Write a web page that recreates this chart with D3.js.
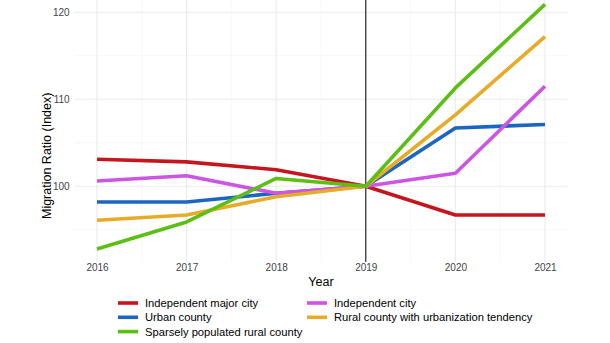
<!DOCTYPE html>
<html lang="en">
<head>
    <meta charset="UTF-8">
    <title>Migration Ratio (Index)</title>
    <script src="https://d3js.org/d3.v7.min.js"></script>
    <style>
        body { margin: 0; background: #fff; }
        svg { display: block; font-family: "Liberation Sans", Arial, sans-serif; }
        .tick text { font-size: 10px; fill: #444; }
        .grid line { stroke: #ebebeb; }
        .grid-minor line { stroke: #f3f3f3; }
    </style>
</head>
<body>
    <div id="chart"></div>
    <script>
        // Index values per group, 2019 = 100
        var years = [2016, 2017, 2018, 2019, 2020, 2021];
        var groupNames = [
            "Independent major city",
            "Urban county",
            "Sparsely populated rural county",
            "Independent city",
            "Rural county with urbanization tendency"
        ];
        var majorCity = [103.1, 102.8, 101.9, 100, 96.7, 96.7];
        var urbanCounty = [98.2, 98.2, 99.2, 100, 106.7, 107.1];
        var sparseRural = [92.8, 95.9, 100.9, 100, 111.3, 120.9];
        var indepCity = [100.6, 101.2, 99.2, 100, 101.5, 111.5];
        var ruralUrban = [96.1, 96.7, 98.8, 100, 108.2, 117.2];
        var yTicks = [100, 110, 120];
        var yMinor = [95, 105, 115];

        var colors = {
            "Independent major city": "#c4161c",
            "Urban county": "#1a66c0",
            "Sparsely populated rural county": "#5dbf16",
            "Independent city": "#cc55e3",
            "Rural county with urbanization tendency": "#e8ab27"
        };

        var series = [
            { name: groupNames[0], values: majorCity },
            { name: groupNames[1], values: urbanCounty },
            { name: groupNames[2], values: sparseRural },
            { name: groupNames[3], values: indepCity },
            { name: groupNames[4], values: ruralUrban }
        ];
        // stacking order of the lines
        var drawOrder = [0, 1, 3, 4, 2];

        var W = 610, H = 343;
        var panel = { left: 74.6, right: 567.4, top: 0, bottom: 262 };

        var svg = d3.select("#chart").append("svg")
            .attr("width", W).attr("height", H);

        var x = d3.scaleLinear()
            .domain([2015.75, 2021.25])
            .range([panel.left, panel.right]);

        var y = d3.scaleLinear()
            .domain([91.3, 121.4])
            .range([panel.bottom, panel.top]);

        // minor grid
        var minor = svg.append("g").attr("class", "grid-minor");
        minor.selectAll("line.h").data(yMinor).enter().append("line")
            .attr("x1", panel.left).attr("x2", panel.right)
            .attr("y1", d => y(d)).attr("y2", d => y(d))
            .attr("stroke-width", 0.6);
        minor.selectAll("line.v").data(years.slice(0, -1).map(d => d + 0.5)).enter().append("line")
            .attr("y1", panel.top).attr("y2", panel.bottom)
            .attr("x1", d => x(d)).attr("x2", d => x(d))
            .attr("stroke-width", 0.6);

        // major grid
        var grid = svg.append("g").attr("class", "grid");
        grid.selectAll("line.h").data(yTicks).enter().append("line")
            .attr("x1", panel.left).attr("x2", panel.right)
            .attr("y1", d => y(d)).attr("y2", d => y(d))
            .attr("stroke-width", 1.1);
        grid.selectAll("line.v").data(years).enter().append("line")
            .attr("y1", panel.top).attr("y2", panel.bottom)
            .attr("x1", d => x(d)).attr("x2", d => x(d))
            .attr("stroke-width", 1.1);

        // axes (labels only)
        var yAxis = svg.append("g")
            .attr("transform", "translate(" + panel.left + ",0)")
            .call(d3.axisLeft(y).tickValues(yTicks).tickSize(0).tickPadding(5));
        yAxis.select(".domain").remove();

        var xAxis = svg.append("g")
            .attr("transform", "translate(0," + panel.bottom + ")")
            .call(d3.axisBottom(x).tickValues(years).tickFormat(d3.format("d")).tickSize(0).tickPadding(2));
        xAxis.select(".domain").remove();

        // reference year marker
        svg.append("line")
            .attr("x1", x(2019)).attr("x2", x(2019))
            .attr("y1", panel.top).attr("y2", panel.bottom)
            .attr("stroke", "#000").attr("stroke-width", 1);

        var line = d3.line()
            .x((d, i) => x(years[i]))
            .y(d => y(d));

        svg.append("g").selectAll("path")
            .data(drawOrder.map(i => series[i]))
            .enter().append("path")
            .attr("d", d => line(d.values))
            .attr("fill", "none")
            .attr("stroke", d => colors[d.name])
            .attr("stroke-width", 3.6)
            .attr("stroke-linejoin", "round");

        // axis titles
        svg.append("text")
            .attr("x", x(2018.5)).attr("y", 286)
            .attr("text-anchor", "middle")
            .style("font-size", "12.5px")
            .text("Year");

        svg.append("text")
            .attr("transform", "translate(51," + y(103.5) + ") rotate(-90)")
            .attr("text-anchor", "middle")
            .style("font-size", "12.5px")
            .text("Migration Ratio (Index)");

        // legend, 3 rows by 2 columns, filled column-wise
        var legend = svg.append("g").selectAll("g")
            .data(series)
            .enter().append("g")
            .attr("transform", function (d, i) {
                var col = Math.floor(i / 3), row = i % 3;
                return "translate(" + (118 + col * 189) + "," + (303 + row * 14.3) + ")";
            });

        legend.append("line")
            .attr("x1", 0).attr("x2", 20)
            .attr("stroke", d => colors[d.name])
            .attr("stroke-width", 3.6);

        legend.append("text")
            .attr("x", 27).attr("y", 4)
            .style("font-size", "11.2px")
            .text(d => d.name);
    </script>
</body>
</html>
